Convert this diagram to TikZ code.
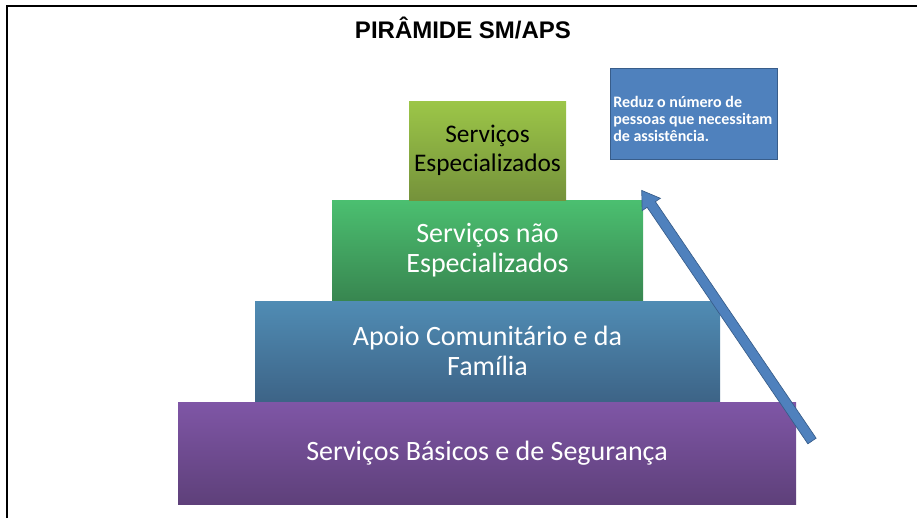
\documentclass[tikz,border=0pt]{standalone}
\usepackage{fontspec}
\setmainfont{Carlito}
\newfontfamily\titlefont{Liberation Sans}
\usetikzlibrary{calc}
\definecolor{boxblue}{RGB}{79,129,189}
\definecolor{boxblueline}{RGB}{56,93,138}
\tikzset{
  tier/.style={draw=none, inner sep=0pt, align=center, font=\fontsize{21}{22.5}\selectfont},
  note/.style={fill=boxblue, draw=boxblueline, line width=0.75pt}
}

\begin{document}
\begin{tikzpicture}[x=0.75pt, y=-0.75pt]
			%%%%% START %%%%%
			\useasboundingbox (0,0) rectangle (917,518);
			
			% moldura
			\draw[line width=1.6pt] (7,518) -- (7,6) -- (917,6);
			
			\node (titulo) at (463,28) {\titlefont\bfseries\fontsize{18}{22}\selectfont PIRÂMIDE SM/APS};
			
			% pirâmide
			\node[tier, minimum width=463.5pt, minimum height=76.5pt, top color={rgb,255:red,127;green,86;blue,166}, bottom color={rgb,255:red,94;green,64;blue,122}, text=white] (basico) at (487,453) {Serviços Básicos e de Segurança};
			\node[tier, minimum width=348.75pt, minimum height=75pt, top color={rgb,255:red,80;green,140;blue,180}, bottom color={rgb,255:red,61;green,100;blue,135}, text=white] (apoio) at (487.5,351) {Apoio Comunitário e da\\Família};
			\node[tier, minimum width=233.25pt, minimum height=75pt, top color={rgb,255:red,75;green,191;blue,112}, bottom color={rgb,255:red,56;green,134;blue,80}, text=white] (naoesp) at (487.5,250.5) {Serviços não\\Especializados};
			\node[tier, minimum width=117.75pt, minimum height=74.25pt, top color={rgb,255:red,156;green,198;blue,72}, bottom color={rgb,255:red,117;green,146;blue,59}, text=black, font=\fontsize{19}{21.5}\selectfont] (esp) at (487.5,150.5) {Serviços\\Especializados};
			
			% caixa de nota
			\draw[note] (610,68) rectangle (777,159);
			\node[align=left, text=white, inner sep=0pt, font=\bfseries\fontsize{12}{12.5}\selectfont, anchor=west] (nota) at (613,119) {Reduz o número de\\pessoas que necessitam\\de assistência.};
			
			% seta
			\coordinate (cauda) at (812,441);
			\coordinate (ponta) at (641,192);
			\begin{scope}[shift={(cauda)}, rotate=124.2]
				\draw[note, line width=0.5pt] (0,-5) -- (286,-5) -- (286,-11) -- (303,0) -- (286,11) -- (286,5) -- (0,5) -- cycle;
			\end{scope}
			
			%%%%% END %%%%%
		\end{tikzpicture}
\end{document}
